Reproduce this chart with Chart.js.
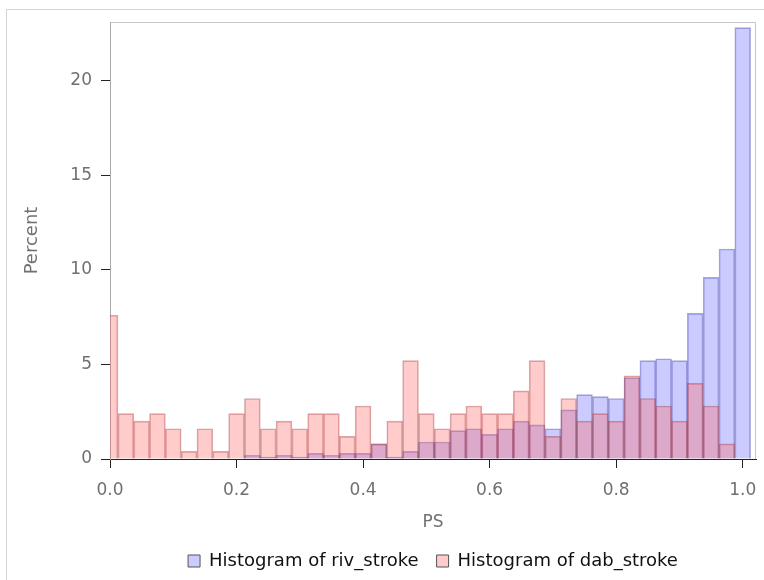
<!DOCTYPE html>
<html>
<head>
<meta charset="utf-8">
<script src="https://cdn.jsdelivr.net/npm/chart.js@4/dist/chart.umd.min.js"></script>
<style>
html,body{margin:0;padding:0;background:#fff;overflow:hidden;}
#wrap{position:relative;width:764px;height:580px;}
#frame{position:absolute;left:6px;top:9px;width:800px;height:600px;border:1px solid #d4d4d4;box-sizing:border-box;}
canvas{position:absolute;left:0;top:0;}
</style>
</head>
<body>
<div id="wrap"><div id="frame"></div><canvas id="c" width="764" height="580"></canvas></div>
<script>
// Bin centers of the histogram (PS)
const binCenters = [0.000,0.025,0.050,0.075,0.100,0.125,0.150,0.175,0.200,0.225,
                    0.250,0.275,0.300,0.325,0.350,0.375,0.400,0.425,0.450,0.475,
                    0.500,0.525,0.550,0.575,0.600,0.625,0.650,0.675,0.700,0.725,
                    0.750,0.775,0.800,0.825,0.850,0.875,0.900,0.925,0.950,0.975,1.000];
// Percent per bin
const rivStroke = [0,0,0,0,0,0,0,0,0,0.2,
                   0.1,0.2,0.1,0.3,0.2,0.3,0.3,0.8,0.1,0.4,
                   0.9,0.9,1.5,1.6,1.3,1.6,2.0,1.8,1.6,2.6,
                   3.4,3.3,3.2,4.3,5.2,5.3,5.2,7.7,9.6,11.1,22.8];
const dabStroke = [7.6,2.4,2.0,2.4,1.6,0.4,1.6,0.4,2.4,3.2,
                   1.6,2.0,1.6,2.4,2.4,1.2,2.8,0.8,2.0,5.2,
                   2.4,1.6,2.4,2.8,2.4,2.4,3.6,5.2,1.2,3.2,
                   2.0,2.4,2.0,4.4,3.2,2.8,2.0,4.0,2.8,0.8,0];
const seriesNames = ['Histogram of riv_stroke','Histogram of dab_stroke'];
const xTickValues = [0,0.2,0.4,0.6,0.8,1.0];
const yTickValues = [0,5,10,15,20];
const xMin = 0, xMax = 1.021;
const yMin = 0, yMax = 23.1;

const blueFill = 'rgba(102,102,255,0.34)';
const redFill = 'rgba(255,102,102,0.34)';
const blueEdge = 'rgba(50,50,160,0.42)';
const redEdge = 'rgba(160,50,50,0.42)';

const toPoints = (vals) => binCenters.map((x,i)=>({x:x, y:vals[i]}));

const framePlugin = {
  id:'frame',
  afterDraw(chart){
    const {ctx, chartArea:a} = chart;
    ctx.save();
    ctx.strokeStyle = '#c6c6c6';
    ctx.lineWidth = 1;
    ctx.beginPath();
    ctx.moveTo(Math.round(a.left)+0.5, Math.round(a.top)+0.5);
    ctx.lineTo(Math.round(a.right)-0.5, Math.round(a.top)+0.5);
    ctx.lineTo(Math.round(a.right)-0.5, Math.round(a.bottom));
    ctx.stroke();
    ctx.restore();
  }
};

const barStyle = {grouped:false, barPercentage:1.0, categoryPercentage:1.0, borderWidth:1};

new Chart(document.getElementById('c'), {
  type:'bar',
  data:{
    datasets:[
      Object.assign({label:seriesNames[0], data:toPoints(rivStroke), backgroundColor:blueFill, borderColor:blueEdge, order:2}, barStyle),
      Object.assign({label:seriesNames[1], data:toPoints(dabStroke), backgroundColor:redFill, borderColor:redEdge, order:1}, barStyle)
    ]
  },
  options:{
    responsive:false,
    animation:false,
    devicePixelRatio:1,
    events:[],
    layout:{padding:{left:0,right:8,top:22,bottom:0}},
    scales:{
      x:{
        type:'linear', min:xMin, max:xMax, offset:false,
        grid:{offset:false, drawOnChartArea:false, drawTicks:true, tickLength:9, color:'#222', tickColor:'#222'},
        border:{display:true, color:'#222', width:1},
        afterBuildTicks(s){ s.ticks = xTickValues.map(v=>({value:v})); },
        afterFit(s){ s.height = 75; s.paddingLeft = 0; s.paddingRight = 0; },
        ticks:{padding:12, color:'#707070', font:{family:'DejaVu Sans', size:17}, callback:(v)=>Number(v).toFixed(1), maxRotation:0, autoSkip:false},
        title:{display:true, text:'PS', color:'#707070', font:{family:'DejaVu Sans', size:17}, padding:{top:0,bottom:1}}
      },
      y:{
        type:'linear', min:yMin, max:yMax,
        grid:{drawOnChartArea:false, drawTicks:true, tickLength:9, color:'#222', tickColor:'#222'},
        border:{display:true, color:'#a8a8a8', width:1},
        afterBuildTicks(s){ s.ticks = yTickValues.map(v=>({value:v})); },
        afterFit(s){ s.width = 110; s.paddingTop = 0; s.paddingBottom = 0; },
        ticks:{padding:9, color:'#707070', font:{family:'DejaVu Sans', size:17}},
        title:{display:true, text:'Percent', color:'#707070', font:{family:'DejaVu Sans', size:18}, padding:{top:22,bottom:0}}
      }
    },
    plugins:{
      legend:{
        display:true, position:'bottom', align:'center', fullSize:false,
        labels:{
          boxWidth:12, boxHeight:12, padding:18, color:'#111',
          font:{family:'DejaVu Sans', size:18},
          generateLabels(chart){
            const items = Chart.defaults.plugins.legend.labels.generateLabels(chart);
            items.forEach(it=>{ it.strokeStyle = '#555'; it.lineWidth = 1; });
            items.sort((a,b)=>a.datasetIndex-b.datasetIndex);
            return items;
          }
        }
      },
      tooltip:{enabled:false}
    }
  },
  plugins:[framePlugin]
});
</script>
</body>
</html>
